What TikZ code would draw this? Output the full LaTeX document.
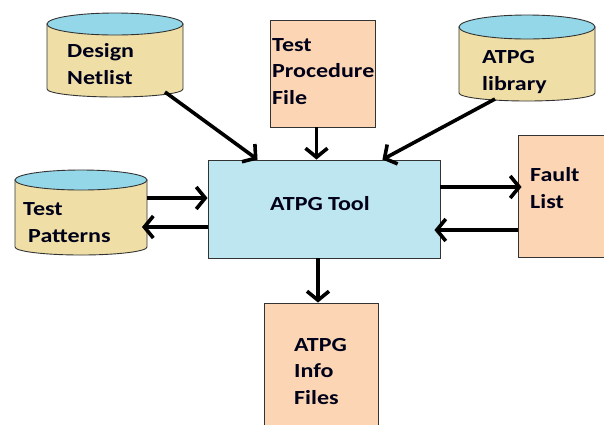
\documentclass[tikz,border=0pt]{standalone}
\usepackage{fontspec}
\newfontfamily\lbl{Carlito}[FakeStretch=1.2]
\usetikzlibrary{arrows.meta,calc}
\definecolor{cylbody}{HTML}{EFDFA6}
\definecolor{cyltop}{HTML}{93D7E8}
\definecolor{peach}{HTML}{FCD5B4}
\definecolor{toolblue}{HTML}{BEE6F0}
\begin{document}
\begin{tikzpicture}[x=1pt,y=-1pt,
  outline/.style={draw=black!80,line width=0.9pt},
  txt/.style={font=\lbl\bfseries\fontsize{20}{26.5}\selectfont,inner sep=0pt,anchor=base west,align=left,text=black!90!blue},
  box/.style={outline,minimum width=#1,inner sep=0pt},
  conn/.style={line width=3.6pt,-{Straight Barb[length=9pt,width=22pt]}},
]
\useasboundingbox (0,0) rectangle (604,424);
\fill[white] (0,0) rectangle (604,424);
% cylinders: left, right, top cy, top ry, bottom cy, bottom ry
\newcommand\cyl[6]{%
  \pgfmathsetmacro\cx{(#1+#2)/2}\pgfmathsetmacro\rx{(#2-#1)/2}%
  \filldraw[outline,fill=cylbody] (#1,#3) -- (#1,#5) arc[start angle=180,end angle=0,x radius=\rx,y radius=#6] -- (#2,#3) -- cycle;
  \filldraw[outline,fill=cyltop] (\cx,#3) ellipse[x radius=\rx,y radius=#4];
}
\cyl{47}{183}{24}{11}{89}{8}
\cyl{459}{595}{27}{12}{93}{8}
\cyl{15}{147}{180}{10}{247}{8}
\coordinate (dnout) at (165,92);
\coordinate (alout) at (495,99);
\coordinate (tpin) at (147,198);
\coordinate (tpout) at (142,227);
\node[txt] (dn) at (67,84) {Design\\Netlist};
\node[txt] (al) at (482,90) {ATPG\\library};
\node[txt] (tp) at (23,242) {Test\\\hspace{5pt}Patterns};
% boxes
\node[box=105,fill=peach,minimum height=107] (tpf) at (322.5,73.5) {};
\node[txt] (tpft) at (272,104) {Test\\Procedure\\File};
\node[box=232,fill=toolblue,minimum height=98] (tool) at (324,209) {};
\node[txt,anchor=base] (toolt) at (320,210) {ATPG Tool};
\node[box=95,fill=peach,minimum height=122] (fault) at (565.5,196) {};
\node[txt] (faultt) at (530,208) {Fault\\List};
\node[box=114,fill=peach,minimum height=137] (info) at (321,371.5) {};
\node[txt] (infot) at (294,404) {ATPG\\Info\\Files};
% connectors
\draw[conn] (dnout) -- ([xshift=50pt]tool.north west);
\draw[conn] ([xshift=-6pt]tpf.south) -- ([xshift=-6pt]tpf.south |- tool.north);
\draw[conn] (alout) -- ([xshift=-58pt]tool.north east);
\draw[conn] (tpin) -- (tool.west |- tpin);
\draw[conn] (tool.west |- tpout) -- (tpout);
\draw[conn] ([yshift=22pt]tool.east) -- ([yshift=22pt,xshift=4pt]tool.east -| fault.west);
\draw[conn] ([yshift=-34pt]fault.west) -- ([yshift=-34pt,xshift=-6pt]fault.west -| tool.east);
\draw[conn] ([xshift=-6pt]tool.south) -- ([xshift=-6pt]tool.south |- info.north);
\end{tikzpicture}
\end{document}
